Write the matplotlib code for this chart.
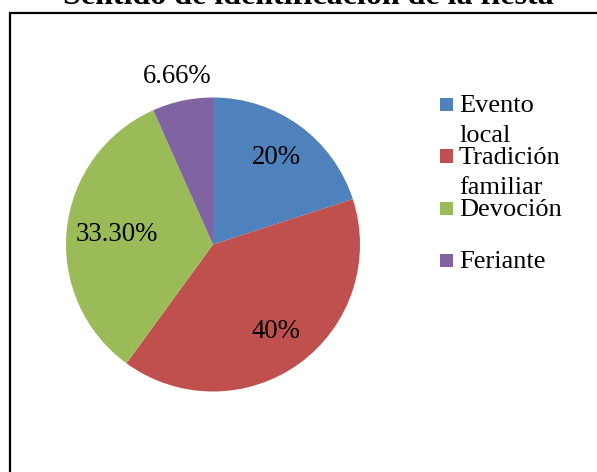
import matplotlib
matplotlib.use("Agg")
import matplotlib.pyplot as plt
import matplotlib.patches as mpatches
import numpy as np

# Data
categories = ["Evento\nlocal", "Tradición\nfamiliar", "Devoción", "Feriante"]
values = [20, 40, 33.30, 6.66]
value_labels = ["20%", "40%", "33.30%", "6.66%"]
colors = ["#4F81BD", "#C0504D", "#9BBB59", "#8064A2"]
title = "Sentido de identificación de la fiesta"

plt.rcParams['font.family'] = ['Liberation Serif', 'DejaVu Serif']

W, H = 597, 472
fig = plt.figure(figsize=(W / 100, H / 100), dpi=100)

def fx(px):
    return px / W

def fy(py):
    return 1 - py / H

# border (top-left visible only)
rect = mpatches.Rectangle((fx(9.5), -0.1), 1.2, fy(12.5) + 0.1, transform=fig.transFigure,
                          fill=False, edgecolor="black", linewidth=1.6, clip_on=False)
fig.patches.append(rect)

# title (clipped at top as in the reference)
fig.text(fx(308.5), fy(4), title, ha="center", va="baseline", fontsize=23, fontweight="bold")

# pie
cx, cy, r = 213, 244.5, 147
ax = fig.add_axes([fx(cx - r), fy(cy + r), 2 * r / W, 2 * r / H])
wedges, _ = ax.pie(values, colors=colors, startangle=90, counterclock=False, radius=1,
                   wedgeprops=dict(linewidth=0))
ax.set_xlim(-1, 1)
ax.set_ylim(-1, 1)
ax.set_axis_off()

label_dist = [0.73, 0.73, 0.66, 1.17]
for w, lab, d in zip(wedges, value_labels, label_dist):
    ang = np.deg2rad((w.theta1 + w.theta2) / 2)
    ax.text(d * np.cos(ang), d * np.sin(ang), lab, ha="center", va="center",
            fontsize=19.3, clip_on=False)

# legend (manual)
sq_y = [104.5, 156, 208.5, 260.5]
for name, col, y in zip(categories, colors, sq_y):
    sq = mpatches.Rectangle((fx(439.5), fy(y + 6.5)), 13 / W, 13 / H, transform=fig.transFigure,
                            facecolor=col, edgecolor="none")
    fig.patches.append(sq)
    for i, line in enumerate(name.split("\n")):
        fig.text(fx(459), fy(y + 7.5 + 30 * i), line, ha="left", va="baseline", fontsize=19)

fig.savefig("out.png", dpi=100)
